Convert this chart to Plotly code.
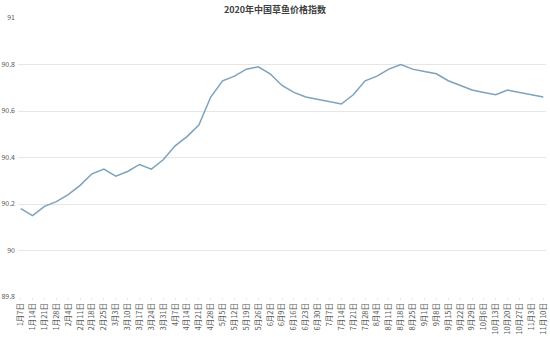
import plotly.graph_objects as go

dates = ["1月7日", "1月14日", "1月21日", "1月28日", "2月4日", "2月11日", "2月18日", "2月25日",
         "3月3日", "3月10日", "3月17日", "3月24日", "3月31日", "4月7日", "4月14日", "4月21日",
         "4月28日", "5月5日", "5月12日", "5月19日", "5月26日", "6月2日", "6月9日", "6月16日",
         "6月23日", "6月30日", "7月7日", "7月14日", "7月21日", "7月28日", "8月4日", "8月11日",
         "8月18日", "8月25日", "9月1日", "9月8日", "9月15日", "9月22日", "9月29日", "10月6日",
         "10月13日", "10月20日", "10月27日", "11月3日", "11月10日"]
values = [90.18, 90.15, 90.19, 90.21, 90.24, 90.28, 90.33, 90.35,
          90.32, 90.34, 90.37, 90.35, 90.39, 90.45, 90.49, 90.54,
          90.66, 90.73, 90.75, 90.78, 90.79, 90.76, 90.71, 90.68,
          90.66, 90.65, 90.64, 90.63, 90.67, 90.73, 90.75, 90.78,
          90.80, 90.78, 90.77, 90.76, 90.73, 90.71, 90.69, 90.68,
          90.67, 90.69, 90.68, 90.67, 90.66]
y_ticks = [89.8, 90, 90.2, 90.4, 90.6, 90.8, 91]
y_labels = ["89.8", "90", "90.2", "90.4", "90.6", "90.8", "91"]
title = "2020年中国草鱼价格指数"

font_family = "Noto Sans CJK SC, Noto Sans, sans-serif"

fig = go.Figure()
fig.add_trace(go.Scatter(
    x=list(range(len(dates))), y=values, mode="lines",
    line=dict(color="#7ca2bd", width=1.5),
    hoverinfo="skip", showlegend=False,
))

fig.update_layout(
    width=550, height=337,
    margin=dict(l=18, r=4, t=18, b=40),
    paper_bgcolor="white", plot_bgcolor="white",
    title=dict(text="<b>" + title + "</b>", x=0.5, xanchor="center", y=0.972, yanchor="middle",
               font=dict(family=font_family, size=9, color="#404040")),
    font=dict(family=font_family, color="#595959"),
)
fig.update_xaxes(
    range=[-0.23, len(dates) - 1 + 0.23],
    tickmode="array", tickvals=list(range(len(dates))), ticktext=dates,
    tickangle=-90, tickfont=dict(size=7.5, color="#595959", family=font_family),
    showgrid=False, zeroline=False, showline=False,
    ticks="outside", ticklen=2, tickcolor="#e6e6e6",
    automargin=False,
)
fig.update_yaxes(
    range=[89.8, 91.0],
    tickmode="array", tickvals=y_ticks, ticktext=y_labels,
    tickfont=dict(size=7, color="#595959", family=font_family),
    showgrid=True, gridcolor="#e6e6e6", gridwidth=1,
    zeroline=False, showline=False, ticks="", ticklabelstandoff=2,
    automargin=False,
)

fig.write_html("out.html")
